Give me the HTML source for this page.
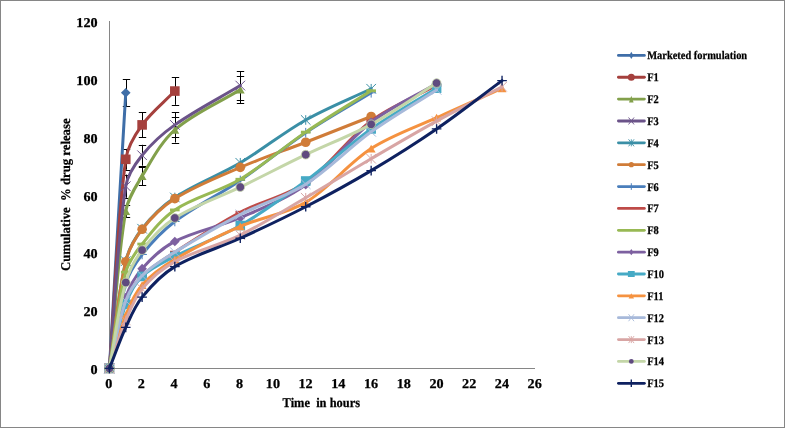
<!DOCTYPE html>
<html><head><meta charset="utf-8"><title>Cumulative % drug release</title>
<style>html,body{margin:0;padding:0;background:#fff}svg{display:block;will-change:transform}text{font-family:"Liberation Serif","DejaVu Serif",serif;font-weight:bold;fill:#000;stroke:#000;stroke-width:0.25px;text-rendering:geometricPrecision}</style></head><body>
<svg width="786" height="428" viewBox="0 0 786 428">
<rect x="0" y="0" width="786" height="428" fill="#fff"/>
<rect x="0.5" y="0.5" width="784" height="427" fill="none" stroke="#868686" stroke-width="1"/>
<path d="M109.5 21 L109.5 368.5 M109 368.5 L535 368.5" stroke="#868686" stroke-width="1" fill="none"/>
<text transform="translate(97.6 374.1) scale(1.05 1)" font-size="13.5" text-anchor="end">0</text>
<text transform="translate(97.6 316.3) scale(1.05 1)" font-size="13.5" text-anchor="end">20</text>
<text transform="translate(97.6 258.4) scale(1.05 1)" font-size="13.5" text-anchor="end">40</text>
<text transform="translate(97.6 200.6) scale(1.05 1)" font-size="13.5" text-anchor="end">60</text>
<text transform="translate(97.6 142.7) scale(1.05 1)" font-size="13.5" text-anchor="end">80</text>
<text transform="translate(97.6 84.9) scale(1.05 1)" font-size="13.5" text-anchor="end">100</text>
<text transform="translate(97.6 27.1) scale(1.05 1)" font-size="13.5" text-anchor="end">120</text>
<text transform="translate(108.7 388) scale(1.05 1)" font-size="13.5" text-anchor="middle">0</text>
<text transform="translate(141.4 388) scale(1.05 1)" font-size="13.5" text-anchor="middle">2</text>
<text transform="translate(174.1 388) scale(1.05 1)" font-size="13.5" text-anchor="middle">4</text>
<text transform="translate(206.9 388) scale(1.05 1)" font-size="13.5" text-anchor="middle">6</text>
<text transform="translate(239.6 388) scale(1.05 1)" font-size="13.5" text-anchor="middle">8</text>
<text transform="translate(272.9 388) scale(1.05 1)" font-size="13.5" text-anchor="middle">10</text>
<text transform="translate(305.6 388) scale(1.05 1)" font-size="13.5" text-anchor="middle">12</text>
<text transform="translate(338.3 388) scale(1.05 1)" font-size="13.5" text-anchor="middle">14</text>
<text transform="translate(371.1 388) scale(1.05 1)" font-size="13.5" text-anchor="middle">16</text>
<text transform="translate(403.8 388) scale(1.05 1)" font-size="13.5" text-anchor="middle">18</text>
<text transform="translate(436.5 388) scale(1.05 1)" font-size="13.5" text-anchor="middle">20</text>
<text transform="translate(469.2 388) scale(1.05 1)" font-size="13.5" text-anchor="middle">22</text>
<text transform="translate(501.9 388) scale(1.05 1)" font-size="13.5" text-anchor="middle">24</text>
<text transform="translate(534.7 388) scale(1.05 1)" font-size="13.5" text-anchor="middle">26</text>
<text x="321.3" y="406.6" font-size="13.33" text-anchor="middle" textLength="77.4" lengthAdjust="spacingAndGlyphs" xml:space="preserve">Time  in hours</text>
<text transform="translate(70.3 194.7) rotate(-90)" font-size="13.33" text-anchor="middle" textLength="152.5" lengthAdjust="spacingAndGlyphs" xml:space="preserve">Cumulative  % drug release</text>
<g>
<path d="M126.5 79.2 L126.5 106.4 M122.8 79.5 L130.2 79.5 M122.8 106.5 L130.2 106.5" stroke="#000" stroke-width="1" fill="none"/>
<path d="M126.5 148.9 L126.5 169.7 M122.8 149.5 L130.2 149.5 M122.8 170.5 L130.2 170.5" stroke="#000" stroke-width="1" fill="none"/>
<path d="M142.5 112.5 L142.5 137.3 M138.8 112.5 L146.2 112.5 M138.8 137.5 L146.2 137.5" stroke="#000" stroke-width="1" fill="none"/>
<path d="M175.5 77.3 L175.5 104.8 M171.8 77.5 L179.2 77.5 M171.8 105.5 L179.2 105.5" stroke="#000" stroke-width="1" fill="none"/>
<path d="M126.5 204.7 L126.5 217.4 M122.8 205.5 L130.2 205.5 M122.8 217.5 L130.2 217.5" stroke="#000" stroke-width="1" fill="none"/>
<path d="M142.5 167.1 L142.5 185.0 M138.8 167.5 L146.2 167.5 M138.8 185.5 L146.2 185.5" stroke="#000" stroke-width="1" fill="none"/>
<path d="M175.5 117.1 L175.5 142.5 M171.8 117.5 L179.2 117.5 M171.8 143.5 L179.2 143.5" stroke="#000" stroke-width="1" fill="none"/>
<path d="M240.5 75.7 L240.5 103.5 M236.8 76.5 L244.2 76.5 M236.8 103.5 L244.2 103.5" stroke="#000" stroke-width="1" fill="none"/>
<path d="M126.5 174.6 L126.5 197.8 M122.8 175.5 L130.2 175.5 M122.8 198.5 L130.2 198.5" stroke="#000" stroke-width="1" fill="none"/>
<path d="M142.5 144.8 L142.5 165.7 M138.8 145.5 L146.2 145.5 M138.8 166.5 L146.2 166.5" stroke="#000" stroke-width="1" fill="none"/>
<path d="M175.5 112.3 L175.5 137.5 M171.8 112.5 L179.2 112.5 M171.8 137.5 L179.2 137.5" stroke="#000" stroke-width="1" fill="none"/>
<path d="M240.5 71.1 L240.5 100.0 M236.8 71.5 L244.2 71.5 M236.8 100.5 L244.2 100.5" stroke="#000" stroke-width="1" fill="none"/>
</g>
<g>
<path d="M109.40 368.40 C114.85 276.53 120.31 184.66 125.76 92.79" stroke="#3F6EA8" stroke-width="3" fill="none" stroke-linecap="round" stroke-linejoin="round"/>
<path d="M109.40 363.60 L114.20 368.40 L109.40 373.20 L104.60 368.40 Z" fill="#3F6EA8"/>
<path d="M125.76 87.99 L130.56 92.79 L125.76 97.59 L120.96 92.79 Z" fill="#3F6EA8"/>
</g>
<g>
<path d="M109.40 368.40 C114.85 298.70 116.53 228.00 125.76 159.31 C127.44 146.83 134.80 135.07 142.12 124.89 C151.16 112.32 163.93 102.34 174.84 91.06" stroke="#A5403D" stroke-width="3" fill="none" stroke-linecap="round" stroke-linejoin="round"/>
<rect x="104.60" y="363.60" width="9.60" height="9.60" fill="#A5403D"/>
<rect x="120.96" y="154.51" width="9.60" height="9.60" fill="#A5403D"/>
<rect x="137.32" y="120.09" width="9.60" height="9.60" fill="#A5403D"/>
<rect x="170.04" y="86.26" width="9.60" height="9.60" fill="#A5403D"/>
</g>
<g>
<path d="M109.40 368.40 C114.85 315.96 116.99 262.60 125.76 211.08 C127.90 198.49 135.49 187.06 142.12 176.08 C151.85 159.97 160.95 142.05 174.84 129.81 C193.67 113.22 218.47 103.01 240.28 89.61" stroke="#82A04B" stroke-width="3" fill="none" stroke-linecap="round" stroke-linejoin="round"/>
<path d="M109.40 364.56 L113.82 372.24 L104.98 372.24 Z" fill="#82A04B"/>
<path d="M125.76 207.24 L130.18 214.92 L121.34 214.92 Z" fill="#82A04B"/>
<path d="M142.12 172.24 L146.54 179.92 L137.70 179.92 Z" fill="#82A04B"/>
<path d="M174.84 125.97 L179.26 133.65 L170.42 133.65 Z" fill="#82A04B"/>
<path d="M240.28 85.77 L244.70 93.45 L235.86 93.45 Z" fill="#82A04B"/>
</g>
<g>
<path d="M109.40 368.40 C114.85 307.67 116.61 245.84 125.76 186.20 C127.51 174.79 134.93 164.24 142.12 155.26 C151.29 143.80 162.77 133.47 174.84 124.89 C195.49 110.23 218.47 98.67 240.28 85.56" stroke="#6B5389" stroke-width="3" fill="none" stroke-linecap="round" stroke-linejoin="round"/>
<path d="M104.60 363.60 L114.20 373.20 M104.60 373.20 L114.20 363.60" stroke="#6B5389" stroke-width="1.00" fill="none"/>
<path d="M120.96 181.40 L130.56 191.00 M120.96 191.00 L130.56 181.40" stroke="#6B5389" stroke-width="1.00" fill="none"/>
<path d="M137.32 150.46 L146.92 160.06 M137.32 160.06 L146.92 150.46" stroke="#6B5389" stroke-width="1.00" fill="none"/>
<path d="M170.04 120.09 L179.64 129.69 M170.04 129.69 L179.64 120.09" stroke="#6B5389" stroke-width="1.00" fill="none"/>
<path d="M235.48 80.76 L245.08 90.36 M235.48 90.36 L245.08 80.76" stroke="#6B5389" stroke-width="1.00" fill="none"/>
</g>
<g>
<path d="M109.40 368.40 C114.85 332.64 117.59 296.00 125.76 261.11 C128.49 249.44 134.84 238.16 142.12 228.72 C151.20 216.95 162.43 205.82 174.84 197.48 C195.15 183.84 219.06 175.35 240.28 162.78 C262.68 149.51 283.08 132.78 305.72 119.98 C326.71 108.10 349.35 99.15 371.16 88.74" stroke="#3A8FA6" stroke-width="3" fill="none" stroke-linecap="round" stroke-linejoin="round"/>
<path d="M104.60 363.60 L114.20 373.20 M104.60 373.20 L114.20 363.60 M109.40 363.60 L109.40 373.20" stroke="#3A8FA6" stroke-width="1.00" fill="none"/>
<path d="M120.96 256.31 L130.56 265.91 M120.96 265.91 L130.56 256.31 M125.76 256.31 L125.76 265.91" stroke="#3A8FA6" stroke-width="1.00" fill="none"/>
<path d="M137.32 223.92 L146.92 233.52 M137.32 233.52 L146.92 223.92 M142.12 223.92 L142.12 233.52" stroke="#3A8FA6" stroke-width="1.00" fill="none"/>
<path d="M170.04 192.68 L179.64 202.28 M170.04 202.28 L179.64 192.68 M174.84 192.68 L174.84 202.28" stroke="#3A8FA6" stroke-width="1.00" fill="none"/>
<path d="M235.48 157.98 L245.08 167.58 M235.48 167.58 L245.08 157.98 M240.28 157.98 L240.28 167.58" stroke="#3A8FA6" stroke-width="1.00" fill="none"/>
<path d="M300.92 115.18 L310.52 124.78 M300.92 124.78 L310.52 115.18 M305.72 115.18 L305.72 124.78" stroke="#3A8FA6" stroke-width="1.00" fill="none"/>
<path d="M366.36 83.94 L375.96 93.54 M366.36 93.54 L375.96 83.94 M371.16 83.94 L371.16 93.54" stroke="#3A8FA6" stroke-width="1.00" fill="none"/>
</g>
<g>
<path d="M109.40 368.40 C114.85 332.83 117.60 296.39 125.76 261.69 C128.50 250.02 134.80 238.70 142.12 229.29 C151.16 217.68 162.34 206.52 174.84 198.64 C195.06 185.89 218.10 176.96 240.28 167.41 C261.73 158.17 283.94 150.72 305.72 142.25 C327.57 133.75 349.35 125.09 371.16 116.51" stroke="#D07C38" stroke-width="3" fill="none" stroke-linecap="round" stroke-linejoin="round"/>
<circle cx="109.40" cy="368.40" r="4.80" fill="#D07C38"/>
<circle cx="125.76" cy="261.69" r="4.80" fill="#D07C38"/>
<circle cx="142.12" cy="229.29" r="4.80" fill="#D07C38"/>
<circle cx="174.84" cy="198.64" r="4.80" fill="#D07C38"/>
<circle cx="240.28" cy="167.41" r="4.80" fill="#D07C38"/>
<circle cx="305.72" cy="142.25" r="4.80" fill="#D07C38"/>
<circle cx="371.16" cy="116.51" r="4.80" fill="#D07C38"/>
</g>
<g>
<path d="M109.40 368.40 C114.85 340.25 117.93 311.24 125.76 283.95 C128.83 273.25 135.24 263.22 142.12 254.46 C151.60 242.39 162.55 230.75 174.84 221.49 C195.27 206.07 218.98 194.87 240.28 180.42 C262.61 165.27 283.31 147.71 305.72 132.70 C326.93 118.50 349.35 106.10 371.16 92.79" stroke="#4A7EBB" stroke-width="3" fill="none" stroke-linecap="round" stroke-linejoin="round"/>
<path d="M104.60 368.40 L114.20 368.40 M109.40 363.60 L109.40 373.20" stroke="#4A7EBB" stroke-width="1.00" fill="none"/>
<path d="M120.96 283.95 L130.56 283.95 M125.76 279.15 L125.76 288.75" stroke="#4A7EBB" stroke-width="1.00" fill="none"/>
<path d="M137.32 254.46 L146.92 254.46 M142.12 249.66 L142.12 259.26" stroke="#4A7EBB" stroke-width="1.00" fill="none"/>
<path d="M170.04 221.49 L179.64 221.49 M174.84 216.69 L174.84 226.29" stroke="#4A7EBB" stroke-width="1.00" fill="none"/>
<path d="M235.48 180.42 L245.08 180.42 M240.28 175.62 L240.28 185.22" stroke="#4A7EBB" stroke-width="1.00" fill="none"/>
<path d="M300.92 132.70 L310.52 132.70 M305.72 127.90 L305.72 137.50" stroke="#4A7EBB" stroke-width="1.00" fill="none"/>
<path d="M366.36 92.79 L375.96 92.79 M371.16 87.99 L371.16 97.59" stroke="#4A7EBB" stroke-width="1.00" fill="none"/>
</g>
<g>
<path d="M109.40 368.40 C114.85 346.04 118.18 322.76 125.76 301.31 C129.08 291.91 135.12 282.87 142.12 275.86 C151.48 266.48 163.54 259.46 174.84 252.14 C196.26 238.25 217.75 224.18 240.28 212.23 C261.38 201.04 286.37 196.24 305.72 182.73 C330.00 165.78 347.28 138.63 371.16 120.84 C390.91 106.14 414.79 97.13 436.60 85.27" stroke="#BE4B48" stroke-width="3" fill="none" stroke-linecap="round" stroke-linejoin="round"/>
<rect x="104.60" y="367.00" width="9.60" height="2.8" fill="#BE4B48"/>
<rect x="120.96" y="299.91" width="9.60" height="2.8" fill="#BE4B48"/>
<rect x="137.32" y="274.46" width="9.60" height="2.8" fill="#BE4B48"/>
<rect x="170.04" y="250.74" width="9.60" height="2.8" fill="#BE4B48"/>
<rect x="235.48" y="210.83" width="9.60" height="2.8" fill="#BE4B48"/>
<rect x="300.92" y="181.33" width="9.60" height="2.8" fill="#BE4B48"/>
<rect x="366.36" y="119.44" width="9.60" height="2.8" fill="#BE4B48"/>
<rect x="431.80" y="83.87" width="9.60" height="2.8" fill="#BE4B48"/>
</g>
<g>
<path d="M109.40 368.40 C114.85 336.30 117.57 303.21 125.76 272.10 C128.48 261.75 135.46 252.48 142.12 244.04 C151.82 231.76 161.90 218.46 174.84 209.92 C194.62 196.86 219.66 191.52 240.28 179.26 C263.29 165.59 283.46 147.17 305.72 132.12 C327.09 117.68 349.35 104.55 371.16 90.77" stroke="#98B954" stroke-width="3" fill="none" stroke-linecap="round" stroke-linejoin="round"/>
<rect x="104.60" y="367.00" width="9.60" height="2.8" fill="#98B954"/>
<rect x="120.96" y="270.70" width="9.60" height="2.8" fill="#98B954"/>
<rect x="137.32" y="242.64" width="9.60" height="2.8" fill="#98B954"/>
<rect x="170.04" y="208.52" width="9.60" height="2.8" fill="#98B954"/>
<rect x="235.48" y="177.86" width="9.60" height="2.8" fill="#98B954"/>
<rect x="300.92" y="130.72" width="9.60" height="2.8" fill="#98B954"/>
<rect x="366.36" y="89.37" width="9.60" height="2.8" fill="#98B954"/>
</g>
<g>
<path d="M109.40 368.40 C114.85 344.78 118.27 320.37 125.76 297.55 C129.18 287.12 134.95 276.83 142.12 268.63 C151.31 258.13 162.43 247.88 174.84 241.44 C195.15 230.91 219.03 226.93 240.28 217.73 C262.65 208.04 286.20 198.99 305.72 184.76 C329.82 167.18 347.46 140.62 371.16 122.29 C391.09 106.88 414.79 96.46 436.60 83.54" stroke="#7D60A0" stroke-width="3" fill="none" stroke-linecap="round" stroke-linejoin="round"/>
<path d="M109.40 363.60 L114.20 368.40 L109.40 373.20 L104.60 368.40 Z" fill="#7D60A0"/>
<path d="M125.76 292.75 L130.56 297.55 L125.76 302.35 L120.96 297.55 Z" fill="#7D60A0"/>
<path d="M142.12 263.83 L146.92 268.63 L142.12 273.43 L137.32 268.63 Z" fill="#7D60A0"/>
<path d="M174.84 236.64 L179.64 241.44 L174.84 246.24 L170.04 241.44 Z" fill="#7D60A0"/>
<path d="M240.28 212.93 L245.08 217.73 L240.28 222.53 L235.48 217.73 Z" fill="#7D60A0"/>
<path d="M305.72 179.96 L310.52 184.76 L305.72 189.56 L300.92 184.76 Z" fill="#7D60A0"/>
<path d="M371.16 117.49 L375.96 122.29 L371.16 127.09 L366.36 122.29 Z" fill="#7D60A0"/>
<path d="M436.60 78.74 L441.40 83.54 L436.60 88.34 L431.80 83.54 Z" fill="#7D60A0"/>
</g>
<g>
<path d="M109.40 368.40 C114.85 347.00 118.42 324.82 125.76 304.20 C129.33 294.17 134.65 283.70 142.12 276.43 C151.01 267.79 163.51 262.35 174.84 256.48 C196.23 245.39 219.44 237.55 240.28 225.54 C263.07 212.39 284.50 196.66 305.72 181.00 C328.13 164.46 348.46 145.04 371.16 128.94 C392.09 114.10 414.79 101.76 436.60 88.17" stroke="#46AAC5" stroke-width="3" fill="none" stroke-linecap="round" stroke-linejoin="round"/>
<rect x="104.60" y="363.60" width="9.60" height="9.60" fill="#46AAC5"/>
<rect x="120.96" y="299.40" width="9.60" height="9.60" fill="#46AAC5"/>
<rect x="137.32" y="271.63" width="9.60" height="9.60" fill="#46AAC5"/>
<rect x="170.04" y="251.68" width="9.60" height="9.60" fill="#46AAC5"/>
<rect x="235.48" y="220.74" width="9.60" height="9.60" fill="#46AAC5"/>
<rect x="300.92" y="176.20" width="9.60" height="9.60" fill="#46AAC5"/>
<rect x="366.36" y="124.14" width="9.60" height="9.60" fill="#46AAC5"/>
<rect x="431.80" y="83.37" width="9.60" height="9.60" fill="#46AAC5"/>
</g>
<g>
<path d="M109.40 368.40 C114.85 350.66 119.01 332.38 125.76 315.19 C129.91 304.61 134.74 293.51 142.12 285.11 C151.10 274.90 162.99 266.46 174.84 259.37 C195.71 246.89 217.92 236.14 240.28 226.40 C261.55 217.14 286.03 214.10 305.72 202.40 C329.65 188.17 347.64 163.84 371.16 148.61 C391.26 135.59 414.68 127.74 436.60 117.66 C458.30 107.69 480.23 98.19 502.04 88.45" stroke="#F59240" stroke-width="3" fill="none" stroke-linecap="round" stroke-linejoin="round"/>
<path d="M109.40 364.56 L113.82 372.24 L104.98 372.24 Z" fill="#F59240"/>
<path d="M125.76 311.35 L130.18 319.03 L121.34 319.03 Z" fill="#F59240"/>
<path d="M142.12 281.27 L146.54 288.95 L137.70 288.95 Z" fill="#F59240"/>
<path d="M174.84 255.53 L179.26 263.21 L170.42 263.21 Z" fill="#F59240"/>
<path d="M240.28 222.56 L244.70 230.24 L235.86 230.24 Z" fill="#F59240"/>
<path d="M305.72 198.56 L310.14 206.24 L301.30 206.24 Z" fill="#F59240"/>
<path d="M371.16 144.77 L375.58 152.45 L366.74 152.45 Z" fill="#F59240"/>
<path d="M436.60 113.82 L441.02 121.50 L432.18 121.50 Z" fill="#F59240"/>
<path d="M502.04 84.61 L506.46 92.29 L497.62 92.29 Z" fill="#F59240"/>
</g>
<g>
<path d="M109.40 368.40 C114.85 345.84 118.14 322.35 125.76 300.73 C129.05 291.41 135.13 282.49 142.12 275.57 C151.49 266.29 163.46 259.22 174.84 252.14 C196.18 238.87 217.97 226.13 240.28 214.55 C261.60 203.47 285.54 196.93 305.72 184.18 C329.16 169.36 348.53 148.14 371.16 131.83 C392.15 116.71 414.79 103.88 436.60 89.90" stroke="#A7B9DA" stroke-width="3" fill="none" stroke-linecap="round" stroke-linejoin="round"/>
<path d="M104.60 363.60 L114.20 373.20 M104.60 373.20 L114.20 363.60" stroke="#A7B9DA" stroke-width="1.00" fill="none"/>
<path d="M120.96 295.93 L130.56 305.53 M120.96 305.53 L130.56 295.93" stroke="#A7B9DA" stroke-width="1.00" fill="none"/>
<path d="M137.32 270.77 L146.92 280.37 M137.32 280.37 L146.92 270.77" stroke="#A7B9DA" stroke-width="1.00" fill="none"/>
<path d="M170.04 247.34 L179.64 256.94 M170.04 256.94 L179.64 247.34" stroke="#A7B9DA" stroke-width="1.00" fill="none"/>
<path d="M235.48 209.75 L245.08 219.35 M235.48 219.35 L245.08 209.75" stroke="#A7B9DA" stroke-width="1.00" fill="none"/>
<path d="M300.92 179.38 L310.52 188.98 M300.92 188.98 L310.52 179.38" stroke="#A7B9DA" stroke-width="1.00" fill="none"/>
<path d="M366.36 127.03 L375.96 136.63 M366.36 136.63 L375.96 127.03" stroke="#A7B9DA" stroke-width="1.00" fill="none"/>
<path d="M431.80 85.10 L441.40 94.70 M431.80 94.70 L441.40 85.10" stroke="#A7B9DA" stroke-width="1.00" fill="none"/>
</g>
<g>
<path d="M109.40 368.40 C114.85 352.40 119.35 335.98 125.76 320.39 C130.25 309.47 134.68 297.77 142.12 288.87 C151.04 278.20 162.54 268.42 174.84 261.69 C195.26 250.49 219.17 245.39 240.28 235.08 C262.79 224.08 284.03 210.42 305.72 197.77 C327.66 184.97 349.24 171.56 371.16 158.73 C392.87 146.02 414.56 133.26 436.60 121.13 C458.19 109.26 480.23 98.19 502.04 86.72" stroke="#D8A5A4" stroke-width="3" fill="none" stroke-linecap="round" stroke-linejoin="round"/>
<path d="M104.60 363.60 L114.20 373.20 M104.60 373.20 L114.20 363.60 M109.40 363.60 L109.40 373.20" stroke="#D8A5A4" stroke-width="1.00" fill="none"/>
<path d="M120.96 315.59 L130.56 325.19 M120.96 325.19 L130.56 315.59 M125.76 315.59 L125.76 325.19" stroke="#D8A5A4" stroke-width="1.00" fill="none"/>
<path d="M137.32 284.07 L146.92 293.67 M137.32 293.67 L146.92 284.07 M142.12 284.07 L142.12 293.67" stroke="#D8A5A4" stroke-width="1.00" fill="none"/>
<path d="M170.04 256.89 L179.64 266.49 M170.04 266.49 L179.64 256.89 M174.84 256.89 L174.84 266.49" stroke="#D8A5A4" stroke-width="1.00" fill="none"/>
<path d="M235.48 230.28 L245.08 239.88 M235.48 239.88 L245.08 230.28 M240.28 230.28 L240.28 239.88" stroke="#D8A5A4" stroke-width="1.00" fill="none"/>
<path d="M300.92 192.97 L310.52 202.57 M300.92 202.57 L310.52 192.97 M305.72 192.97 L305.72 202.57" stroke="#D8A5A4" stroke-width="1.00" fill="none"/>
<path d="M366.36 153.93 L375.96 163.53 M366.36 163.53 L375.96 153.93 M371.16 153.93 L371.16 163.53" stroke="#D8A5A4" stroke-width="1.00" fill="none"/>
<path d="M431.80 116.33 L441.40 125.93 M431.80 125.93 L441.40 116.33 M436.60 116.33 L436.60 125.93" stroke="#D8A5A4" stroke-width="1.00" fill="none"/>
<path d="M497.24 81.92 L506.84 91.52 M497.24 91.52 L506.84 81.92 M502.04 81.92 L502.04 91.52" stroke="#D8A5A4" stroke-width="1.00" fill="none"/>
</g>
<g>
<path d="M109.40 368.40 C114.85 339.77 118.05 310.37 125.76 282.51 C128.96 270.94 134.89 259.62 142.12 250.12 C151.25 238.12 162.15 226.16 174.84 218.02 C194.87 205.15 218.56 197.58 240.28 187.07 C262.19 176.47 283.78 165.20 305.72 154.68 C327.40 144.28 350.10 135.83 371.16 124.32 C393.73 111.97 414.79 96.84 436.60 83.10" stroke="#C4D6A8" stroke-width="3" fill="none" stroke-linecap="round" stroke-linejoin="round"/>
<circle cx="109.40" cy="368.40" r="4.35" fill="#5F4A7F" stroke="#C4D6A8" stroke-width="0.8"/>
<circle cx="125.76" cy="282.51" r="4.35" fill="#5F4A7F" stroke="#C4D6A8" stroke-width="0.8"/>
<circle cx="142.12" cy="250.12" r="4.35" fill="#5F4A7F" stroke="#C4D6A8" stroke-width="0.8"/>
<circle cx="174.84" cy="218.02" r="4.35" fill="#5F4A7F" stroke="#C4D6A8" stroke-width="0.8"/>
<circle cx="240.28" cy="187.07" r="4.35" fill="#5F4A7F" stroke="#C4D6A8" stroke-width="0.8"/>
<circle cx="305.72" cy="154.68" r="4.35" fill="#5F4A7F" stroke="#C4D6A8" stroke-width="0.8"/>
<circle cx="371.16" cy="124.32" r="4.35" fill="#5F4A7F" stroke="#C4D6A8" stroke-width="0.8"/>
<circle cx="436.60" cy="83.10" r="4.35" fill="#5F4A7F" stroke="#C4D6A8" stroke-width="0.8"/>
</g>
<g>
<path d="M109.40 368.40 C114.85 354.71 119.62 340.70 125.76 327.33 C130.53 316.94 135.01 305.91 142.12 297.11 C151.37 285.66 162.23 274.16 174.84 266.60 C194.95 254.55 218.67 248.15 240.28 238.26 C262.29 228.19 284.22 217.85 305.72 206.74 C327.85 195.30 349.75 183.31 371.16 170.59 C393.38 157.38 415.30 143.58 436.60 128.94 C458.93 113.60 480.23 96.74 502.04 80.65" stroke="#0E2160" stroke-width="3" fill="none" stroke-linecap="round" stroke-linejoin="round"/>
<path d="M104.60 368.40 L114.20 368.40 M109.40 363.60 L109.40 373.20" stroke="#0E2160" stroke-width="1.35" fill="none"/>
<path d="M120.96 327.33 L130.56 327.33 M125.76 322.53 L125.76 332.13" stroke="#0E2160" stroke-width="1.35" fill="none"/>
<path d="M137.32 297.11 L146.92 297.11 M142.12 292.31 L142.12 301.91" stroke="#0E2160" stroke-width="1.35" fill="none"/>
<path d="M170.04 266.60 L179.64 266.60 M174.84 261.80 L174.84 271.40" stroke="#0E2160" stroke-width="1.35" fill="none"/>
<path d="M235.48 238.26 L245.08 238.26 M240.28 233.46 L240.28 243.06" stroke="#0E2160" stroke-width="1.35" fill="none"/>
<path d="M300.92 206.74 L310.52 206.74 M305.72 201.94 L305.72 211.54" stroke="#0E2160" stroke-width="1.35" fill="none"/>
<path d="M366.36 170.59 L375.96 170.59 M371.16 165.79 L371.16 175.39" stroke="#0E2160" stroke-width="1.35" fill="none"/>
<path d="M431.80 128.94 L441.40 128.94 M436.60 124.14 L436.60 133.74" stroke="#0E2160" stroke-width="1.35" fill="none"/>
<path d="M497.24 80.65 L506.84 80.65 M502.04 75.85 L502.04 85.45" stroke="#0E2160" stroke-width="1.35" fill="none"/>
</g>
<path d="M618.4 55.40 L644.4 55.40" stroke="#3F6EA8" stroke-width="2.8" stroke-linecap="round"/>
<path d="M631.30 51.80 L633.40 55.40 L631.30 59.00 L629.20 55.40 Z" fill="#3F6EA8"/>
<text transform="translate(647.2 59.40) scale(0.9 1)" font-size="11.6">Marketed formulation</text>
<path d="M618.4 77.26 L644.4 77.26" stroke="#A5403D" stroke-width="2.8" stroke-linecap="round"/>
<circle cx="631.30" cy="77.26" r="3.5" fill="#A5403D"/>
<text transform="translate(647.2 81.26) scale(0.9 1)" font-size="11.6">F1</text>
<path d="M618.4 99.12 L644.4 99.12" stroke="#82A04B" stroke-width="2.8" stroke-linecap="round"/>
<path d="M631.30 95.72 L633.60 102.52 L629.00 102.52 Z" fill="#82A04B"/>
<text transform="translate(647.2 103.12) scale(0.9 1)" font-size="11.6">F2</text>
<path d="M618.4 120.98 L644.4 120.98" stroke="#6B5389" stroke-width="2.8" stroke-linecap="round"/>
<path d="M628.55 117.48 L634.05 124.48 M628.55 124.48 L634.05 117.48" stroke="#6B5389" stroke-width="0.9" fill="none"/>
<text transform="translate(647.2 124.98) scale(0.9 1)" font-size="11.6">F3</text>
<path d="M618.4 142.84 L644.4 142.84" stroke="#3A8FA6" stroke-width="2.8" stroke-linecap="round"/>
<path d="M628.55 139.34 L634.05 146.34 M628.55 146.34 L634.05 139.34 M631.30 139.34 L631.30 146.34" stroke="#3A8FA6" stroke-width="0.9" fill="none"/>
<text transform="translate(647.2 146.84) scale(0.9 1)" font-size="11.6">F4</text>
<path d="M618.4 164.70 L644.4 164.70" stroke="#D07C38" stroke-width="2.8" stroke-linecap="round"/>
<circle cx="631.30" cy="164.70" r="2.6" fill="#D07C38"/>
<text transform="translate(647.2 168.70) scale(0.9 1)" font-size="11.6">F5</text>
<path d="M618.4 186.56 L644.4 186.56" stroke="#4A7EBB" stroke-width="2.8" stroke-linecap="round"/>
<path d="M631.30 183.26 L631.30 189.86" stroke="#4A7EBB" stroke-width="1.00" fill="none"/>
<text transform="translate(647.2 190.56) scale(0.9 1)" font-size="11.6">F6</text>
<path d="M618.4 208.42 L644.4 208.42" stroke="#BE4B48" stroke-width="2.8" stroke-linecap="round"/>

<text transform="translate(647.2 212.42) scale(0.9 1)" font-size="11.6">F7</text>
<path d="M618.4 230.28 L644.4 230.28" stroke="#98B954" stroke-width="2.8" stroke-linecap="round"/>

<text transform="translate(647.2 234.28) scale(0.9 1)" font-size="11.6">F8</text>
<path d="M618.4 252.14 L644.4 252.14" stroke="#7D60A0" stroke-width="2.8" stroke-linecap="round"/>
<path d="M631.30 248.94 L633.50 252.14 L631.30 255.34 L629.10 252.14 Z" fill="#7D60A0"/>
<text transform="translate(647.2 256.14) scale(0.9 1)" font-size="11.6">F9</text>
<path d="M618.4 274.00 L644.4 274.00" stroke="#46AAC5" stroke-width="2.8" stroke-linecap="round"/>
<rect x="627.90" y="271.00" width="6.8" height="6" fill="#46AAC5"/>
<text transform="translate(647.2 278.00) scale(0.9 1)" font-size="11.6">F10</text>
<path d="M618.4 295.86 L644.4 295.86" stroke="#F59240" stroke-width="2.8" stroke-linecap="round"/>
<path d="M631.30 293.16 L634.00 298.56 L628.60 298.56 Z" fill="#F59240"/>
<text transform="translate(647.2 299.86) scale(0.9 1)" font-size="11.6">F11</text>
<path d="M618.4 317.72 L644.4 317.72" stroke="#A7B9DA" stroke-width="2.8" stroke-linecap="round"/>
<path d="M628.55 314.22 L634.05 321.22 M628.55 321.22 L634.05 314.22" stroke="#A7B9DA" stroke-width="0.9" fill="none"/>
<text transform="translate(647.2 321.72) scale(0.9 1)" font-size="11.6">F12</text>
<path d="M618.4 339.58 L644.4 339.58" stroke="#D8A5A4" stroke-width="2.8" stroke-linecap="round"/>
<path d="M628.55 336.08 L634.05 343.08 M628.55 343.08 L634.05 336.08 M631.30 336.08 L631.30 343.08" stroke="#D8A5A4" stroke-width="0.9" fill="none"/>
<text transform="translate(647.2 343.58) scale(0.9 1)" font-size="11.6">F13</text>
<path d="M618.4 361.44 L644.4 361.44" stroke="#C4D6A8" stroke-width="2.8" stroke-linecap="round"/>
<circle cx="631.30" cy="361.44" r="2.4" fill="#5F4A7F"/>
<text transform="translate(647.2 365.44) scale(0.9 1)" font-size="11.6">F14</text>
<path d="M618.4 383.30 L644.4 383.30" stroke="#0E2160" stroke-width="2.8" stroke-linecap="round"/>
<path d="M631.30 379.60 L631.30 387.00" stroke="#0E2160" stroke-width="1.40" fill="none"/>
<text transform="translate(647.2 387.30) scale(0.9 1)" font-size="11.6">F15</text>
</svg></body></html>
